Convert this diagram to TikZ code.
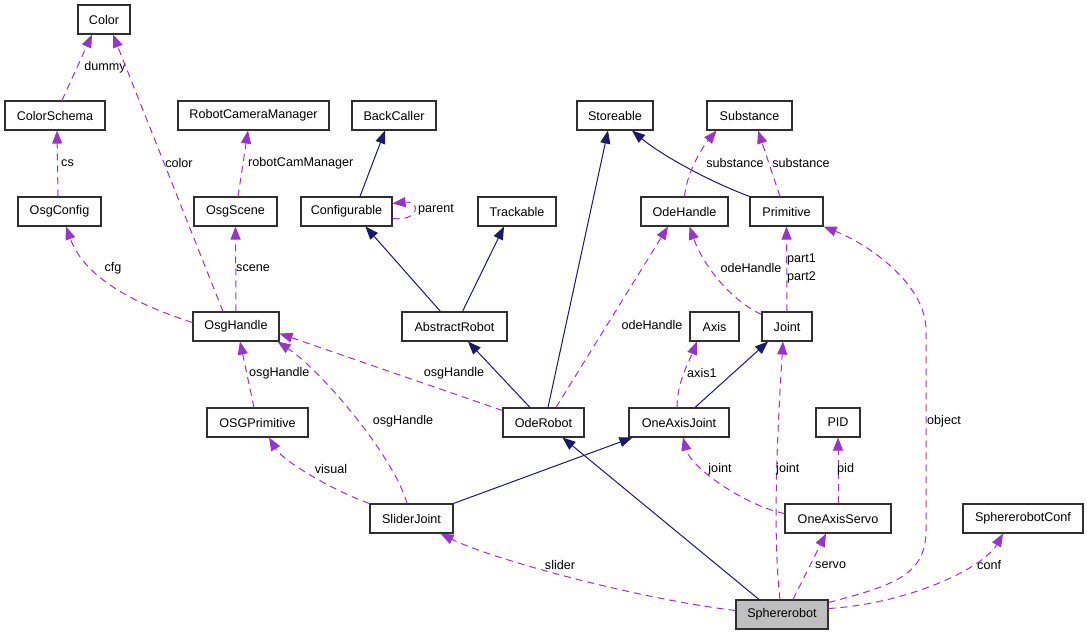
\documentclass[tikz,border=0pt]{standalone}
\usepackage{fontspec}
\setmainfont{Liberation Sans}
\usetikzlibrary{arrows.meta,calc}
\definecolor{inhcol}{HTML}{191970}
\definecolor{usecol}{HTML}{9A32CD}
\definecolor{boxcol}{HTML}{303030}
\definecolor{mainfill}{HTML}{BFBFBF}
\begin{document}
\begin{tikzpicture}[x=1pt,y=-1pt,
  cls/.style={draw=boxcol, line width=1.1pt, minimum height=29pt, inner xsep=2pt, inner ysep=0pt, font=\fontsize{12.6}{14}\selectfont, fill=white},
  inh/.style={draw=inhcol, line width=1pt, -{Triangle[length=13pt,width=10pt]}, fill=none},
  use/.style={draw=usecol, line width=1pt, dash pattern=on 7pt off 5pt, -{Triangle[length=13pt,width=10pt]}, fill=none},
  lbl/.style={inner sep=0pt, font=\fontsize{12.6}{14}\selectfont, text=black},
]
\useasboundingbox (0,0) rectangle (1087,635);
% nodes
\node[cls, minimum width=52pt] (color) at (104,19.5) {Color};
\node[cls, minimum width=100pt] (colsch) at (55,115.5) {ColorSchema};
\node[cls, minimum width=151pt] (rcm) at (253.5,115.5) {RobotCameraManager};
\node[cls, minimum width=84pt] (backc) at (394,115.5) {BackCaller};
\node[cls, minimum width=76pt] (store) at (615,115.5) {Storeable};
\node[cls, minimum width=85pt] (subst) at (749.5,115.5) {Substance};
\node[cls, minimum width=83pt] (osgcfg) at (59.5,211.5) {OsgConfig};
\node[cls, minimum width=83pt] (osgsc) at (235.5,211.5) {OsgScene};
\node[cls, minimum width=91pt] (conf) at (346.5,211.5) {Configurable};
\node[cls, minimum width=78pt] (track) at (517,211.5) {Trackable};
\node[cls, minimum width=87pt] (odeh) at (684.5,211.5) {OdeHandle};
\node[cls, minimum width=73pt] (prim) at (786.5,211.5) {Primitive};
\node[cls, minimum width=86pt] (osgh) at (236,326.5) {OsgHandle};
\node[cls, minimum width=105pt] (absr) at (454.5,326.5) {AbstractRobot};
\node[cls, minimum width=49pt] (axis) at (714.5,326.5) {Axis};
\node[cls, minimum width=50pt] (joint) at (787,326.5) {Joint};
\node[cls, minimum width=101pt] (osgp) at (257.5,422.5) {OSGPrimitive};
\node[cls, minimum width=81pt] (oder) at (543.5,422.5) {OdeRobot};
\node[cls, minimum width=100pt] (oaj) at (679,422.5) {OneAxisJoint};
\node[cls, minimum width=44pt] (pid) at (838,422.5) {PID};
\node[cls, minimum width=83pt] (slj) at (411.5,518.5) {SliderJoint};
\node[cls, minimum width=106pt] (oas) at (838,518.5) {OneAxisServo};
\node[cls, minimum width=120pt] (sconf) at (1023,518.5) {SphererobotConf};
\node[cls, minimum width=92pt, fill=mainfill] (sphere) at (782,614.5) {Sphererobot};
% inheritance
\draw[inh] ([xshift=13.5pt]conf.north) -- ([xshift=-9pt]backc.south);
\draw[inh] ([xshift=-14pt]absr.north) -- ([xshift=19pt]conf.south);
\draw[inh] ([xshift=8pt]absr.north) -- ([xshift=-13pt]track.south);
\draw[inh] ([xshift=-13.5pt]oder.north) -- ([xshift=13.5pt]absr.south);
\draw[inh] ([xshift=4.5pt]oder.north) -- ([xshift=-7pt]store.south);
\draw[inh] (prim.north west) .. controls +(-40,-15) and +(30,25) .. ([xshift=17pt]store.south);
\draw[inh] ([xshift=16pt]oaj.north) -- ([xshift=-19pt]joint.south);
\draw[inh] (slj.north east) -- ([xshift=4pt]oaj.south west);
\draw[inh] ([xshift=-23pt]sphere.north) -- ([xshift=19pt]oder.south);
% usage
\draw[use] ([xshift=7pt]colsch.north) -- ([xshift=-12pt]color.south);
\node[lbl] (l1) at (105,67) {dummy};
\draw[use] ([xshift=-1.5pt]osgcfg.north) -- ([xshift=2pt]colsch.south);
\node[lbl, anchor=west] (l2) at (61,163) {cs};
\draw[use] ([xshift=-13pt]osgh.north) -- ([xshift=9pt]color.south);
\node[lbl] (l3) at (179,163) {color};
\draw[use] ([yshift=4pt]osgh.west) .. controls +(-53,-17) and +(19,53) .. ([xshift=6.5pt]osgcfg.south);
\node[lbl] (l4) at (113,268) {cfg};
\draw[use] ([xshift=2.5pt]osgsc.north) -- ([xshift=-5.5pt]rcm.south);
\node[lbl, anchor=west] (l5) at (248,163) {robotCamManager};
\draw[use] (osgh.north) -- (osgsc.south);
\node[lbl, anchor=west] (l6) at (236,268) {scene};
\draw[use] ([yshift=-7pt]conf.east) .. controls +(28,3) and +(28,-3) .. ([yshift=8pt]conf.east);
\node[lbl, anchor=west] (l7) at (418,210) {parent};
\draw[use] (odeh.north) .. controls +(2,-22) and +(-16,19) .. ([xshift=-33pt]subst.south);
\node[lbl] (l8) at (735,163) {substance};
\draw[use] ([xshift=-6.5pt]prim.north) -- ([xshift=8.5pt]subst.south);
\node[lbl] (l9) at (801,163) {substance};
\draw[use] ([xshift=12.5pt]oder.north) -- ([xshift=-16.5pt]odeh.south);
\node[lbl] (l10) at (652,325) {odeHandle};
\draw[use] ([yshift=12pt]joint.west) .. controls +(-30,-14) and +(14,40) .. ([xshift=5pt]odeh.south);
\node[lbl] (l11) at (751,268) {odeHandle};
\draw[use] (joint.north) -- (prim.south);
\node[lbl, anchor=west] (l12) at (787,259) {part1};
\node[lbl, anchor=west] (l13) at (787,277) {part2};
\draw[use] ([yshift=12pt]oder.west) -- ([yshift=-7pt]osgh.east);
\node[lbl] (l14) at (454,373) {osgHandle};
\draw[use] ([xshift=-3.5pt]osgp.north) -- ([xshift=4pt]osgh.south);
\node[lbl, anchor=west] (l15) at (249,373) {osgHandle};
\draw[use] ([xshift=-4.5pt]slj.north) .. controls +(-12,-45) and +(45,30) .. ([xshift=-2pt]osgh.south east);
\node[lbl] (l16) at (403,421) {osgHandle};
\draw[use] (slj.north west) .. controls +(-30,-10) and +(15,25) .. ([xshift=11.5pt]osgp.south);
\node[lbl] (l17) at (331,469) {visual};
\draw[use] ([xshift=-2pt]oaj.north) .. controls +(0,-25) and +(-8,20) .. ([xshift=-17.5pt]axis.south);
\node[lbl, anchor=west] (l18) at (687,373) {axis1};
\draw[use] ([yshift=5pt]oas.west) .. controls +(-40,-8) and +(8,30) .. ([xshift=4pt]oaj.south);
\node[lbl] (l19) at (720,469) {joint};
\draw[use] (oas.north) -- (pid.south);
\node[lbl, anchor=west] (l20) at (837,469) {pid};
\draw[use] ([yshift=4pt]sphere.west) .. controls +(-100,-12) and +(50,25) .. ([xshift=29pt]slj.south);
\node[lbl] (l21) at (560,565) {slider};
\draw[use] ([xshift=-2pt]sphere.north) .. controls +(-8,-70) and +(-5,80) .. ([xshift=-4pt]joint.south);
\node[lbl, anchor=west] (l22) at (776,469) {joint};
\draw[use] ([xshift=11pt]sphere.north) -- ([xshift=-12pt]oas.south);
\node[lbl, anchor=west] (l23) at (815,565) {servo};
\draw[use] ([yshift=12pt]sphere.east) .. controls (895,585) and (926,575) .. (926,530) -- (926,330) .. controls (926,285) and (870,245) .. (prim.south east);
\node[lbl, anchor=west] (l24) at (927,421) {object};
\draw[use] ([yshift=6pt]sphere.east) .. controls +(80,-5) and +(-20,35) .. ([xshift=-20pt]sconf.south);
\node[lbl, anchor=west] (l25) at (977,565) {conf};
\end{tikzpicture}
\end{document}
